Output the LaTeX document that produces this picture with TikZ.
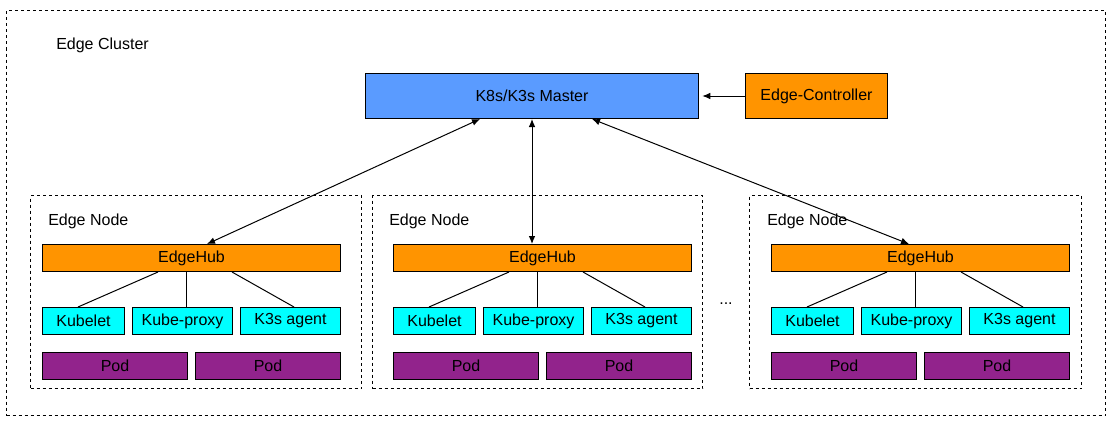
\documentclass[tikz,border=0pt]{standalone}
\usepackage{fontspec}
\setmainfont{Liberation Sans}
\usetikzlibrary{arrows.meta,calc}
\definecolor{masterblue}{RGB}{90,155,255}
\definecolor{orng}{RGB}{255,148,0}
\definecolor{cyn}{RGB}{0,255,255}
\definecolor{purp}{RGB}{146,35,140}
\def\u{0.75pt}
\begin{document}
\begin{tikzpicture}[x=0.75pt,y=-0.75pt, font=\fontsize{12}{14}\selectfont,
  box/.style={draw, line width=0.75pt, inner sep=0pt, anchor=north west, minimum height=27*\u},
  region/.style={draw, dash pattern=on 2.25pt off 2.25pt, line width=0.75pt, inner sep=0pt, anchor=north west},
  link/.style={line width=0.75pt},
  tipx/.style={line width=0.75pt, {Latex[length=6pt,width=5pt]}-{Latex[length=6pt,width=5pt]}},
  tipone/.style={line width=0.75pt, -{Latex[length=6pt,width=5pt]}},
  lbl/.style={anchor=west, inner sep=0pt}
  ]
\useasboundingbox (0,0) rectangle (1116,429);
\node[region, minimum width=1099*\u, minimum height=405*\u] (cluster) at (6,10) {};
\node[lbl] (title) at (56,45) {Edge Cluster};
\node[box, fill=masterblue, minimum width=333*\u, minimum height=45*\u] (master) at (365,73) {K8s/K3s Master};
\node[box, fill=orng, minimum width=142*\u, minimum height=45*\u] (ctrl) at (745,73) {Edge-Controller};
\draw[tipone, shorten >=2.5pt] (ctrl.west) -- (master.east);
\foreach \i/\nl/\nw/\hl/\lx in {1/30/331/42/48, 2/372/330/393/389, 3/749/332/771/767} {
  \node[region, minimum width=\nw*\u, minimum height=193*\u] (node\i) at (\nl,195) {};
  \node[lbl] (label\i) at (\lx,221) {Edge Node};
  \node[box, fill=orng, minimum width=298*\u] (hub\i) at (\hl,244) {EdgeHub};
  \node[box, fill=cyn, minimum width=82*\u] (kubelet\i) at (\hl,307) {Kubelet};
  \node[box, fill=cyn, minimum width=100*\u] (proxy\i) at (\hl+90,307) {Kube-proxy};
  \node[box, fill=cyn, minimum width=100*\u] (agent\i) at (\hl+198,307) {K3s agent};
  \node[box, fill=purp, minimum width=145*\u] (poda\i) at (\hl,352) {Pod};
  \node[box, fill=purp, minimum width=145*\u] (podb\i) at (\hl+153,352) {Pod};
  \draw[link] ($(hub\i.south west)+(116,0)$) -- ($(kubelet\i.north west)+(36,0)$);
  \draw[link] ($(hub\i.south west)+(144,0)$) -- ($(proxy\i.north west)+(54,0)$);
  \draw[link] ($(hub\i.south west)+(190,0)$) -- ($(agent\i.north west)+(54,0)$);
}
\node[inner sep=0pt] (dots) at (726,304) {...};
\draw[tipx] ($(master.south west)+(115,0)$) -- ($(hub1.north west)+(165,0)$);
\draw[tipx] ($(master.south west)+(167,0)$) -- ($(hub2.north west)+(139,0)$);
\draw[tipx] ($(master.south west)+(227,0)$) -- ($(hub3.north west)+(138,0)$);
\end{tikzpicture}
\end{document}
